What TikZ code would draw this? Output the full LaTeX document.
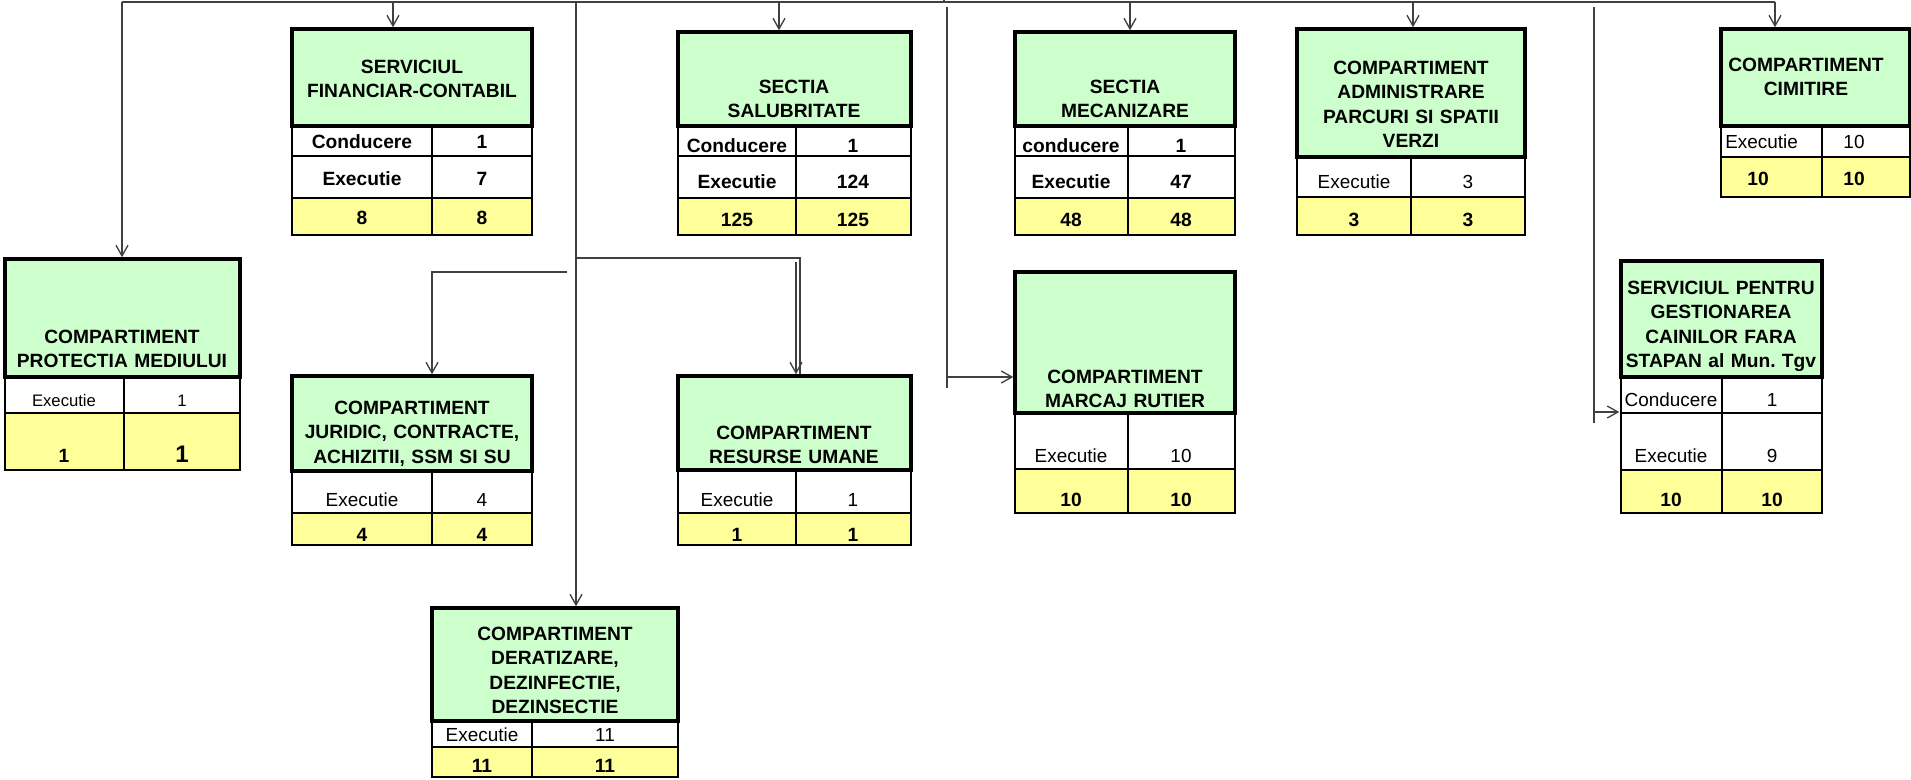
\documentclass[tikz,border=0pt]{standalone}
\usepackage{fontspec}
\setmainfont{Liberation Sans}
\usetikzlibrary{arrows.meta,fit}
\definecolor{hdrgreen}{HTML}{CCFFCC}
\definecolor{sumyellow}{HTML}{FFFF99}
\frenchspacing
\begin{document}
\begin{tikzpicture}[x=0.75pt,y=-0.75pt,
    hdr/.style={draw,line width=2.6pt,fill=hdrgreen,inner sep=0pt},
    rowcell/.style={draw,line width=1.4pt,fill=white},
    sumcell/.style={draw,line width=1.4pt,fill=sumyellow},
    hdrtext/.style={font=\fontsize{14.4}{18.4}\selectfont\bfseries,align=center,text width=190pt,anchor=base,inner sep=0pt},
    boldval/.style={font=\fontsize{14.4}{17}\selectfont\bfseries,anchor=base,inner sep=0pt},
    val/.style={font=\fontsize{14.2}{17}\selectfont,anchor=base,inner sep=0pt},
    conn/.style={draw=black!75,line width=1pt},
    arr/.style={conn,-{Straight Barb[length=8pt,width=9pt]}}]
    \useasboundingbox (0,0) rectangle (1911,779);
        \draw[rowcell] (5,377) rectangle (124,413);
        \draw[rowcell] (124,377) rectangle (240,413);
        \draw[sumcell] (5,413) rectangle (124,470);
        \draw[sumcell] (124,413) rectangle (240,470);
        \node[hdr,fit={(5,259) (240,377)}] (prot) {};
        \node[hdrtext] (prot-t) at (122,343) {COMPARTIMENT\\PROTECTIA MEDIULUI};
        \node[val,font=\fontsize{12.5}{15}\selectfont] (prot-a) at (64,406) {Executie};
        \node[val,font=\fontsize{12.5}{15}\selectfont] (prot-b) at (182,406) {1};
        \node[boldval] (prot-c) at (64,462) {1};
        \node[boldval,font=\fontsize{18}{20}\selectfont\bfseries] (prot-d) at (182,462) {1};
        \draw[rowcell] (292,126) rectangle (432,156);
        \draw[rowcell] (432,126) rectangle (532,156);
        \draw[rowcell] (292,156) rectangle (432,198);
        \draw[rowcell] (432,156) rectangle (532,198);
        \draw[sumcell] (292,198) rectangle (432,235);
        \draw[sumcell] (432,198) rectangle (532,235);
        \node[hdr,fit={(292,29) (532,126)}] (fin) {};
        \node[hdrtext] (fin-t) at (412,73) {SERVICIUL\\FINANCIAR-CONTABIL};
        \node[boldval] (fin-a) at (362,148) {Conducere};
        \node[boldval] (fin-b) at (482,148) {1};
        \node[boldval] (fin-c) at (362,185) {Executie};
        \node[boldval] (fin-d) at (482,185) {7};
        \node[boldval] (fin-e) at (362,224) {8};
        \node[boldval] (fin-f) at (482,224) {8};
        \draw[rowcell] (678,126) rectangle (796,156);
        \draw[rowcell] (796,126) rectangle (911,156);
        \draw[rowcell] (678,156) rectangle (796,198);
        \draw[rowcell] (796,156) rectangle (911,198);
        \draw[sumcell] (678,198) rectangle (796,235);
        \draw[sumcell] (796,198) rectangle (911,235);
        \node[hdr,fit={(678,32) (911,126)}] (sal) {};
        \node[hdrtext] (sal-t) at (794,93) {SECTIA\\SALUBRITATE};
        \node[boldval] (sal-a) at (737,152) {Conducere};
        \node[boldval] (sal-b) at (853,152) {1};
        \node[boldval] (sal-c) at (737,188) {Executie};
        \node[boldval] (sal-d) at (853,188) {124};
        \node[boldval] (sal-e) at (737,226) {125};
        \node[boldval] (sal-f) at (853,226) {125};
        \draw[rowcell] (1015,126) rectangle (1128,156);
        \draw[rowcell] (1128,126) rectangle (1235,156);
        \draw[rowcell] (1015,156) rectangle (1128,198);
        \draw[rowcell] (1128,156) rectangle (1235,198);
        \draw[sumcell] (1015,198) rectangle (1128,235);
        \draw[sumcell] (1128,198) rectangle (1235,235);
        \node[hdr,fit={(1015,32) (1235,126)}] (mec) {};
        \node[hdrtext] (mec-t) at (1125,93) {SECTIA\\MECANIZARE};
        \node[boldval] (mec-a) at (1071,152) {conducere};
        \node[boldval] (mec-b) at (1181,152) {1};
        \node[boldval] (mec-c) at (1071,188) {Executie};
        \node[boldval] (mec-d) at (1181,188) {47};
        \node[boldval] (mec-e) at (1071,226) {48};
        \node[boldval] (mec-f) at (1181,226) {48};
        \draw[rowcell] (1297,157) rectangle (1411,197);
        \draw[rowcell] (1411,157) rectangle (1525,197);
        \draw[sumcell] (1297,197) rectangle (1411,235);
        \draw[sumcell] (1411,197) rectangle (1525,235);
        \node[hdr,fit={(1297,29) (1525,157)}] (adm) {};
        \node[hdrtext] (adm-t) at (1411,74) {COMPARTIMENT\\ADMINISTRARE\\PARCURI SI SPATII\\VERZI};
        \node[val] (adm-a) at (1354,188) {Executie};
        \node[val] (adm-b) at (1468,188) {3};
        \node[boldval] (adm-c) at (1354,226) {3};
        \node[boldval] (adm-d) at (1468,226) {3};
        \draw[rowcell] (1721,126) rectangle (1822,157);
        \draw[rowcell] (1822,126) rectangle (1910,157);
        \draw[sumcell] (1721,157) rectangle (1822,197);
        \draw[sumcell] (1822,157) rectangle (1910,197);
        \node[hdr,fit={(1721,29) (1910,126)}] (cim) {};
        \node[hdrtext] (cim-t) at (1806,71) {COMPARTIMENT\\CIMITIRE};
        \node[val,anchor=base west] (cim-a) at (1725,148) {Executie};
        \node[val] (cim-b) at (1854,148) {10};
        \node[boldval] (cim-c) at (1758,185) {10};
        \node[boldval] (cim-d) at (1854,185) {10};
        \draw[rowcell] (292,471) rectangle (432,513);
        \draw[rowcell] (432,471) rectangle (532,513);
        \draw[sumcell] (292,513) rectangle (432,545);
        \draw[sumcell] (432,513) rectangle (532,545);
        \node[hdr,fit={(292,376) (532,471)}] (jur) {};
        \node[hdrtext] (jur-t) at (412,414) {COMPARTIMENT\\JURIDIC, CONTRACTE,\\ACHIZITII, SSM SI SU};
        \node[val] (jur-a) at (362,506) {Executie};
        \node[val] (jur-b) at (482,506) {4};
        \node[boldval] (jur-c) at (362,541) {4};
        \node[boldval] (jur-d) at (482,541) {4};
        \draw[rowcell] (678,470) rectangle (796,513);
        \draw[rowcell] (796,470) rectangle (911,513);
        \draw[sumcell] (678,513) rectangle (796,545);
        \draw[sumcell] (796,513) rectangle (911,545);
        \node[hdr,fit={(678,376) (911,470)}] (res) {};
        \node[hdrtext] (res-t) at (794,439) {COMPARTIMENT\\RESURSE UMANE};
        \node[val] (res-a) at (737,506) {Executie};
        \node[val] (res-b) at (853,506) {1};
        \node[boldval] (res-c) at (737,541) {1};
        \node[boldval] (res-d) at (853,541) {1};
        \draw[rowcell] (1015,413) rectangle (1128,469);
        \draw[rowcell] (1128,413) rectangle (1235,469);
        \draw[sumcell] (1015,469) rectangle (1128,513);
        \draw[sumcell] (1128,469) rectangle (1235,513);
        \node[hdr,fit={(1015,272) (1235,413)}] (mar) {};
        \node[hdrtext] (mar-t) at (1125,383) {COMPARTIMENT\\MARCAJ RUTIER};
        \node[val] (mar-a) at (1071,462) {Executie};
        \node[val] (mar-b) at (1181,462) {10};
        \node[boldval] (mar-c) at (1071,506) {10};
        \node[boldval] (mar-d) at (1181,506) {10};
        \draw[rowcell] (1621,377) rectangle (1722,413);
        \draw[rowcell] (1722,377) rectangle (1822,413);
        \draw[rowcell] (1621,413) rectangle (1722,470);
        \draw[rowcell] (1722,413) rectangle (1822,470);
        \draw[sumcell] (1621,470) rectangle (1722,513);
        \draw[sumcell] (1722,470) rectangle (1822,513);
        \node[hdr,fit={(1621,261) (1822,377)}] (spc) {};
        \node[hdrtext] (spc-t) at (1721,294) {SERVICIUL PENTRU\\GESTIONAREA\\CAINILOR FARA\\STAPAN al Mun. Tgv};
        \node[val] (spc-a) at (1671,406) {Conducere};
        \node[val] (spc-b) at (1772,406) {1};
        \node[val] (spc-c) at (1671,462) {Executie};
        \node[val] (spc-d) at (1772,462) {9};
        \node[boldval] (spc-e) at (1671,506) {10};
        \node[boldval] (spc-f) at (1772,506) {10};
        \draw[rowcell] (432,721) rectangle (532,747);
        \draw[rowcell] (532,721) rectangle (678,747);
        \draw[sumcell] (432,747) rectangle (532,777);
        \draw[sumcell] (532,747) rectangle (678,777);
        \node[hdr,fit={(432,608) (678,721)}] (der) {};
        \node[hdrtext] (der-t) at (555,640) {COMPARTIMENT\\DERATIZARE,\\DEZINFECTIE,\\DEZINSECTIE};
        \node[val] (der-a) at (482,741) {Executie};
        \node[val] (der-b) at (605,741) {11};
        \node[boldval] (der-c) at (482,772) {11};
        \node[boldval] (der-d) at (605,772) {11};
        \coordinate (l0) at (122,2);
        \coordinate (l1) at (393,2);
        \coordinate (l2) at (576,2);
        \coordinate (l3) at (779,2);
        \coordinate (top) at (944,2);
        \coordinate (up) at (944,0);
        \coordinate (l5) at (1130,2);
        \coordinate (l6) at (1413,2);
        \coordinate (l8) at (1775,2);
        \coordinate (v1) at (947,7);
        \coordinate (v2) at (947,388);
        \coordinate (m1) at (947,377);
        \coordinate (v3) at (1594,7);
        \coordinate (v4) at (1594,423);
        \coordinate (s1) at (1594,412);
        \coordinate (j1) at (576,258);
        \coordinate (j2) at (800,258);
        \coordinate (j3) at (796,262);
        \coordinate (j4) at (567,272);
        \coordinate (j5) at (432,272);
        \draw[conn] (l0) -- (l8);
        \draw[conn] (top) -- (up);
        \draw[arr] (l0) -- (l0 |- prot.north);
        \draw[arr] (l1) -- (l1 |- fin.north);
        \draw[arr] (l2) -- (l2 |- der.north);
        \draw[conn] (j1) -- (j2) -- (j2 |- res.north);
        \draw[arr] (j3) -- (j3 |- res.north);
        \draw[arr] (j4) -- (j5) -- (j5 |- jur.north);
        \draw[arr] (l3) -- (l3 |- sal.north);
        \draw[conn] (v1) -- (v2);
        \draw[arr] (m1) -- (m1 -| mar.west);
        \draw[arr] (l5) -- (l5 |- mec.north);
        \draw[arr] (l6) -- (l6 |- adm.north);
        \draw[conn] (v3) -- (v4);
        \draw[arr] (s1) -- (s1 -| spc.west);
        \draw[arr] (l8) -- (l8 |- cim.north);
    \end{tikzpicture}
\end{document}
